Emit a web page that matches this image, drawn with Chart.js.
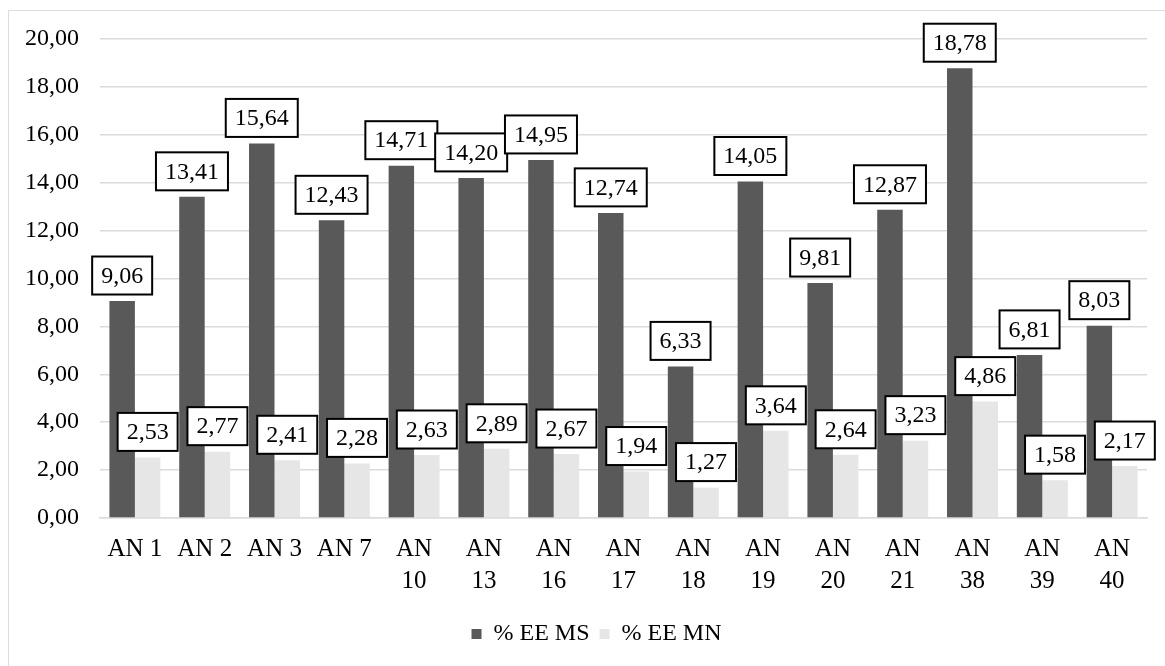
<!DOCTYPE html>
<html>
<head>
<meta charset="utf-8">
<script src="https://cdn.jsdelivr.net/npm/chart.js@4.4.1/dist/chart.umd.min.js"></script>
<style>
  html, body { margin: 0; padding: 0; background: #ffffff; overflow: hidden; }
  #frame { position: absolute; left: 8px; top: 10px; width: 1200px; height: 700px;
           border: 1.5px solid #d9dce1; box-sizing: border-box; }
  #wrap { position: absolute; left: 0; top: 0; width: 1165px; height: 666px; }
</style>
</head>
<body>
<div id="frame"></div>
<div id="wrap"><canvas id="chart"></canvas></div>
<script>
// Categories (multi-line where the label wraps)
const categories = [
  'AN 1', 'AN 2', 'AN 3', 'AN 7',
  ['AN', '10'], ['AN', '13'], ['AN', '16'], ['AN', '17'], ['AN', '18'],
  ['AN', '19'], ['AN', '20'], ['AN', '21'], ['AN', '38'], ['AN', '39'], ['AN', '40']
];
const seriesNames = ['% EE MS', '% EE MN'];
const eeMS = [9.06, 13.41, 15.64, 12.43, 14.71, 14.20, 14.95, 12.74, 6.33, 14.05, 9.81, 12.87, 18.78, 6.81, 8.03];
const eeMN = [2.53, 2.77, 2.41, 2.28, 2.63, 2.89, 2.67, 1.94, 1.27, 3.64, 2.64, 3.23, 4.86, 1.58, 2.17];
const yTicks = [0, 2, 4, 6, 8, 10, 12, 14, 16, 18, 20];

const FONT = '"Liberation Serif", "Times New Roman", serif';
const fmt = v => v.toFixed(2).replace('.', ',');

// Widest y tick label, used to right-align the mirrored tick labels
const measureCtx = document.createElement('canvas').getContext('2d');
measureCtx.font = '24px ' + FONT;
const widestTick = Math.max(...yTicks.map(v => measureCtx.measureText(fmt(v)).width));

// Boxed value labels above each bar
const boxedLabels = {
  id: 'boxedLabels',
  afterDatasetsDraw(chart) {
    const ctx = chart.ctx;
    ctx.save();
    ctx.font = '24px ' + FONT;
    ctx.textAlign = 'center';
    ctx.textBaseline = 'middle';
    chart.data.datasets.forEach((ds, di) => {
      const meta = chart.getDatasetMeta(di);
      meta.data.forEach((bar, i) => {
        const txt = fmt(ds.data[i]);
        const w = ctx.measureText(txt).width + 18;
        const h = 38;
        const bottom = bar.y - 6.5;
        const x0 = bar.x - w / 2;
        const y0 = bottom - h;
        ctx.fillStyle = '#ffffff';
        ctx.fillRect(x0, y0, w, h);
        ctx.lineWidth = 2;
        ctx.strokeStyle = '#000000';
        ctx.strokeRect(x0, y0, w, h);
        ctx.fillStyle = '#000000';
        ctx.fillText(txt, bar.x, y0 + h / 2 + 1);
      });
    });
    ctx.restore();
  }
};

new Chart(document.getElementById('chart'), {
  type: 'bar',
  data: {
    labels: categories,
    datasets: [
      { label: seriesNames[0], data: eeMS, backgroundColor: '#595959' },
      { label: seriesNames[1], data: eeMN, backgroundColor: '#e6e6e6' }
    ]
  },
  options: {
    responsive: true,
    maintainAspectRatio: false,
    animation: false,
    devicePixelRatio: 1,
    layout: { padding: { left: 46, right: 18, top: 39, bottom: 10 } },
    datasets: { bar: { categoryPercentage: 0.73, barPercentage: 1.0 } },
    scales: {
      x: {
        grid: { display: false, drawTicks: false },
        border: { display: true, color: '#d9dce1', width: 1.5 },
        ticks: {
          color: '#000000',
          font: { family: FONT, size: 25, lineHeight: 1.28 },
          padding: 15,
          maxRotation: 0,
          autoSkip: false
        },
        afterFit(scale) { scale.height = 94; }
      },
      y: {
        min: 0,
        max: 20,
        afterBuildTicks(scale) { scale.ticks = yTicks.map(v => ({ value: v })); },
        grid: { color: '#d9dce1', lineWidth: 1.5, drawTicks: false },
        border: { display: false },
        ticks: {
          color: '#000000',
          font: { family: FONT, size: 24 },
          mirror: true,
          crossAlign: 'far',
          padding: -21 - widestTick,
          callback: v => fmt(v)
        },
        afterFit(scale) { scale.width = 54; }
      }
    },
    plugins: {
      legend: {
        position: 'bottom',
        labels: {
          color: '#000000',
          font: { family: FONT, size: 24 },
          boxWidth: 10,
          boxHeight: 10,
          padding: 10
        }
      },
      tooltip: { enabled: false }
    }
  },
  plugins: [boxedLabels]
});
</script>
</body>
</html>
